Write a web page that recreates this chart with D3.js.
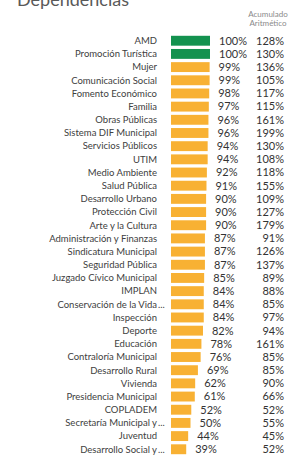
<!DOCTYPE html>
<html>
<head>
<meta charset="utf-8">
<script src="https://cdn.jsdelivr.net/npm/d3@7"></script>
<style>
  body { margin: 0; background: #fff; }
  svg { display: block; font-family: Lato, "Noto Sans", sans-serif; }
</style>
</head>
<body>
<svg id="chart" width="305" height="463"></svg>
<script>
const dependencias = [
  "AMD", "Promoción Turística", "Mujer", "Comunicación Social", "Fomento Económico",
  "Familia", "Obras Públicas", "Sistema DIF Municipal", "Servicios Públicos", "UTIM",
  "Medio Ambiente", "Salud Pública", "Desarrollo Urbano", "Protección Civil",
  "Arte y la Cultura", "Administración y Finanzas", "Sindicatura Municipal",
  "Seguridad Pública", "Juzgado Cívico Municipal", "IMPLAN", "Conservación de la Vida...",
  "Inspección", "Deporte", "Educación", "Contraloría Municipal", "Desarrollo Rural",
  "Vivienda", "Presidencia Municipal", "COPLADEM", "Secretaría Municipal y...",
  "Juventud", "Desarrollo Social y..."
];
const avance = [100, 100, 99, 99, 98, 97, 96, 96, 94, 94, 92, 91, 90, 90, 90, 87, 87, 87,
  85, 84, 84, 84, 82, 78, 76, 69, 62, 61, 52, 50, 44, 39];
const acumulado = [128, 130, 136, 105, 117, 115, 161, 199, 130, 108, 118, 155, 109, 127,
  179, 91, 126, 137, 89, 88, 85, 97, 94, 161, 85, 85, 90, 66, 52, 55, 45, 52];

const data = dependencias.map((d, i) => ({ name: d, value: avance[i], acum: acumulado[i] }));

const svg = d3.select("#chart");

const y = d3.scaleBand()
    .domain(dependencias)
    .range([32.5, 457.5])
    .padding(0.25);

const x = d3.scaleLinear()
    .domain([0, 100])
    .range([171, 210]);

const cy = d => y(d.name) + y.bandwidth() / 2;

// titulo (cortado arriba)
svg.append("text")
    .attr("x", 17)
    .attr("y", 6)
    .attr("font-size", 18)
    .attr("fill", "#595959")
    .text("Dependencias");

svg.append("text")
    .attr("x", 268)
    .attr("y", 17)
    .attr("text-anchor", "middle")
    .attr("font-size", 8)
    .attr("fill", "#8a8a8a")
    .text("Acumulado");

svg.append("text")
    .attr("x", 268)
    .attr("y", 26)
    .attr("text-anchor", "middle")
    .attr("font-size", 8)
    .attr("fill", "#8a8a8a")
    .text("Aritmético");

const rows = svg.append("g")
    .selectAll("g")
    .data(data)
    .enter()
    .append("g");

// etiquetas: las truncadas dejan los "..." a la derecha del borde
rows.append("text")
    .attr("x", 157)
    .attr("y", cy)
    .attr("dy", "0.35em")
    .attr("text-anchor", "end")
    .attr("font-size", 9.5)
    .attr("fill", "#404040")
    .text(d => d.name.replace(/\.\.\.$/, ""));

rows.filter(d => d.name.endsWith("..."))
    .append("text")
    .attr("x", 158)
    .attr("y", cy)
    .attr("dy", "0.35em")
    .attr("font-size", 9.5)
    .attr("fill", "#404040")
    .text("...");

rows.append("rect")
    .attr("x", x(0))
    .attr("y", d => y(d.name))
    .attr("width", d => x(d.value) - x(0))
    .attr("height", y.bandwidth())
    .attr("fill", d => d.value >= 100 ? "#13924f" : "#f8b133");

rows.append("text")
    .attr("x", d => x(d.value) + 9)
    .attr("y", cy)
    .attr("dy", "0.35em")
    .attr("font-size", 11)
    .attr("fill", "#333")
    .text(d => d.value + "%");

rows.append("text")
    .attr("x", 284)
    .attr("y", cy)
    .attr("dy", "0.35em")
    .attr("text-anchor", "end")
    .attr("font-size", 11)
    .attr("fill", "#333")
    .text(d => d.acum + "%");
</script>
</body>
</html>
